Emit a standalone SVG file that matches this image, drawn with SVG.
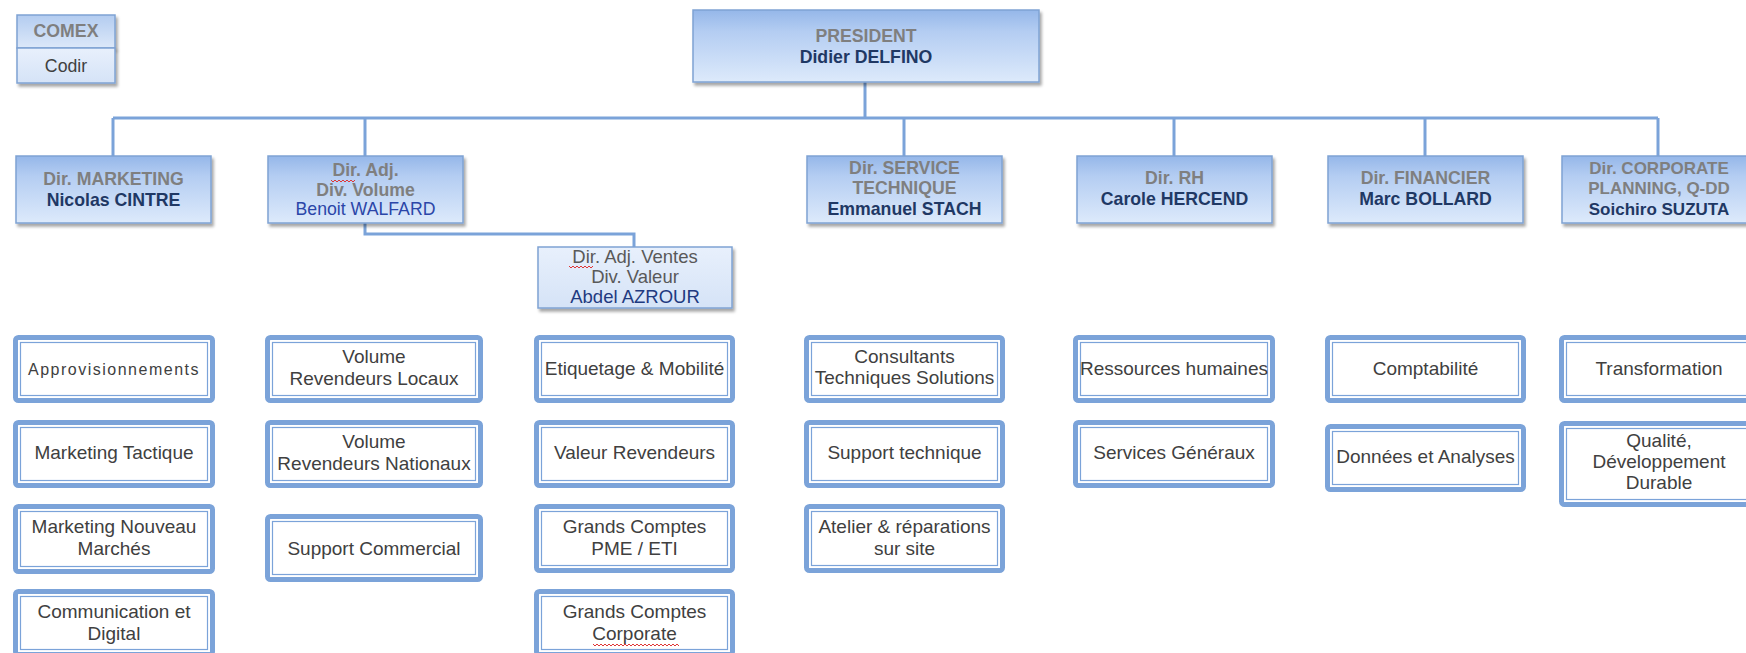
<svg xmlns="http://www.w3.org/2000/svg" width="1746" height="653" viewBox="0 0 1746 653">
<defs>
<linearGradient id="g1" x1="0" y1="0" x2="0" y2="1">
<stop offset="0" stop-color="#95B7E9"/>
<stop offset="0.3" stop-color="#B4CDF2"/>
<stop offset="1" stop-color="#DDEAFB"/>
</linearGradient>
<linearGradient id="g2" x1="0" y1="0" x2="0" y2="1">
<stop offset="0" stop-color="#E8F0FC"/>
<stop offset="1" stop-color="#D5E3F7"/>
</linearGradient>
<linearGradient id="g3" x1="0" y1="0" x2="0" y2="1">
<stop offset="0" stop-color="#B3CCF0"/>
<stop offset="1" stop-color="#DCE8F9"/>
</linearGradient>
<filter id="sh" x="-5%" y="-10%" width="115%" height="130%">
<feDropShadow dx="2" dy="3" stdDeviation="1.5" flood-color="#000" flood-opacity="0.35"/>
</filter>
<style>
.l1{fill:url(#g1);stroke:#7FA3D3;stroke-width:1.5;filter:url(#sh)}
.l1b{fill:url(#g2);stroke:#7FA3D3;stroke-width:1.5;filter:url(#sh)}
.t1{font-family:"Liberation Sans",Arial,sans-serif;font-size:17.7px;font-weight:bold;fill:#7F7F7F;text-anchor:middle}
.n1{fill:#1F3864}
.nb{fill:#2B46A8;font-weight:normal}
.tr{font-family:"Liberation Sans",Arial,sans-serif;font-size:18.5px;fill:#595959;text-anchor:middle}
.o2{fill:#fff;stroke:#7BA3D9;stroke-width:5}
.i2{fill:none;stroke:#7BA3D9;stroke-width:1.2}
.t2{font-family:"Liberation Sans",Arial,sans-serif;font-size:19px;fill:#404040;text-anchor:middle}
.conn{stroke:#7BA3D9;stroke-width:3;fill:none}
.wavy{stroke:#E03535;stroke-width:1;fill:none}
</style>
</defs>
<rect width="1746" height="653" fill="#FFFFFF"/>

<g id="connectors">
<path class="conn" d="M865 82 V118"/>
<path class="conn" d="M113 118 H1658"/>
<path class="conn" d="M113 118 V156"/>
<path class="conn" d="M365 118 V156"/>
<path class="conn" d="M904 118 V156"/>
<path class="conn" d="M1174 118 V156"/>
<path class="conn" d="M1425 118 V156"/>
<path class="conn" d="M1658 118 V156"/>
<path class="conn" d="M365 223 V234 H634 V247"/>
</g>

<g id="comex">
<rect x="17" y="15" width="98" height="33" fill="url(#g3)" stroke="#7FA3D3" stroke-width="1.5" filter="url(#sh)"/>
<rect x="17" y="48" width="98" height="35" fill="url(#g2)" stroke="#7FA3D3" stroke-width="1.5" filter="url(#sh)"/>
<text class="t1" x="66" y="37">COMEX</text>
<text class="t1" x="66" y="72" style="font-weight:normal;fill:#404040">Codir</text>
</g>

<g id="president">
<rect class="l1" x="693" y="10" width="346" height="72"/>
<text class="t1" x="866" y="42">PRESIDENT</text>
<text class="t1 n1" x="866" y="63">Didier DELFINO</text>
</g>

<g id="dir-marketing">
<rect class="l1" x="16" y="156" width="195" height="67"/>
<text class="t1" x="113.5" y="185">Dir. MARKETING</text>
<text class="t1 n1" x="113.5" y="206">Nicolas CINTRE</text>
</g>

<g id="dir-volume">
<rect class="l1" x="268" y="156" width="195" height="67"/>
<text class="t1" x="365.5" y="176">Dir. Adj.</text>
<text class="t1" x="365.5" y="195.5">Div. Volume</text>
<text class="t1 nb" x="365.5" y="214.5">Benoit WALFARD</text>
<path class="wavy" d="M331 180 l2 2 l2 -2 l2 2 l2 -2 l2 2 l2 -2 l2 2 l2 -2 l2 2 l2 -2 l2 2 l2 -2"/>
</g>

<g id="dir-valeur">
<rect class="l1b" x="538" y="247" width="194" height="61"/>
<text class="tr" x="635" y="263">Dir. Adj. Ventes</text>
<text class="tr" x="635" y="283">Div. Valeur</text>
<text class="tr" x="635" y="303" style="fill:#1F3A80">Abdel AZROUR</text>
<path class="wavy" d="M569 266 l2 2 l2 -2 l2 2 l2 -2 l2 2 l2 -2 l2 2 l2 -2 l2 2 l2 -2 l2 2 l2 -2"/>
</g>

<g id="dir-service">
<rect class="l1" x="807" y="156" width="195" height="67"/>
<text class="t1" x="904.5" y="173.5">Dir. SERVICE</text>
<text class="t1" x="904.5" y="194">TECHNIQUE</text>
<text class="t1 n1" x="904.5" y="214.5">Emmanuel STACH</text>
</g>

<g id="dir-rh">
<rect class="l1" x="1077" y="156" width="195" height="67"/>
<text class="t1" x="1174.5" y="184">Dir. RH</text>
<text class="t1 n1" x="1174.5" y="205">Carole HERCEND</text>
</g>

<g id="dir-financier">
<rect class="l1" x="1328" y="156" width="195" height="67"/>
<text class="t1" x="1425.5" y="184">Dir. FINANCIER</text>
<text class="t1 n1" x="1425.5" y="205">Marc BOLLARD</text>
</g>

<g id="dir-corporate">
<rect class="l1" x="1562" y="156" width="195" height="67"/>
<text class="t1" x="1659" y="174" style="font-size:17px">Dir. CORPORATE</text>
<text class="t1" x="1659" y="194" style="font-size:17px">PLANNING, Q-DD</text>
<text class="t1 n1" x="1659" y="215" style="font-size:17px">Soichiro SUZUTA</text>
</g>

<!-- Column A -->
<g id="approvisionnements">
<rect class="o2" x="15.5" y="337.5" width="197" height="63" rx="3"/>
<rect class="i2" x="20.5" y="342.5" width="187" height="53"/>
<text class="t2" x="114" y="375" style="font-size:16px;letter-spacing:1.5px">Approvisionnements</text>
</g>
<g id="marketing-tactique">
<rect class="o2" x="15.5" y="422.5" width="197" height="63" rx="3"/>
<rect class="i2" x="20.5" y="427.5" width="187" height="53"/>
<text class="t2" x="114" y="459">Marketing Tactique</text>
</g>
<g id="marketing-nouveau">
<rect class="o2" x="15.5" y="506.5" width="197" height="65" rx="3"/>
<rect class="i2" x="20.5" y="511.5" width="187" height="55"/>
<text class="t2" x="114" y="533">Marketing Nouveau</text>
<text class="t2" x="114" y="555">Marchés</text>
</g>
<g id="communication">
<rect class="o2" x="15.5" y="591.5" width="197" height="63" rx="3"/>
<rect class="i2" x="20.5" y="596.5" width="187" height="53"/>
<text class="t2" x="114" y="618">Communication et</text>
<text class="t2" x="114" y="640">Digital</text>
</g>

<!-- Column B -->
<g id="volume-locaux">
<rect class="o2" x="267.5" y="337.5" width="213" height="63" rx="3"/>
<rect class="i2" x="272.5" y="342.5" width="203" height="53"/>
<text class="t2" x="374" y="363">Volume</text>
<text class="t2" x="374" y="385">Revendeurs Locaux</text>
</g>
<g id="volume-nationaux">
<rect class="o2" x="267.5" y="422.5" width="213" height="63" rx="3"/>
<rect class="i2" x="272.5" y="427.5" width="203" height="53"/>
<text class="t2" x="374" y="448">Volume</text>
<text class="t2" x="374" y="470">Revendeurs Nationaux</text>
</g>
<g id="support-commercial">
<rect class="o2" x="267.5" y="516.5" width="213" height="63" rx="3"/>
<rect class="i2" x="272.5" y="521.5" width="203" height="53"/>
<text class="t2" x="374" y="555">Support Commercial</text>
</g>

<!-- Column C -->
<g id="etiquetage">
<rect class="o2" x="536.5" y="337.5" width="196" height="63" rx="3"/>
<rect class="i2" x="541.5" y="342.5" width="186" height="53"/>
<text class="t2" x="634.5" y="375">Etiquetage &amp; Mobilité</text>
</g>
<g id="valeur-revendeurs">
<rect class="o2" x="536.5" y="422.5" width="196" height="63" rx="3"/>
<rect class="i2" x="541.5" y="427.5" width="186" height="53"/>
<text class="t2" x="634.5" y="459">Valeur Revendeurs</text>
</g>
<g id="gc-pme">
<rect class="o2" x="536.5" y="506.5" width="196" height="64" rx="3"/>
<rect class="i2" x="541.5" y="511.5" width="186" height="54"/>
<text class="t2" x="634.5" y="533">Grands Comptes</text>
<text class="t2" x="634.5" y="555">PME / ETI</text>
</g>
<g id="gc-corporate">
<rect class="o2" x="536.5" y="591.5" width="196" height="63" rx="3"/>
<rect class="i2" x="541.5" y="596.5" width="186" height="53"/>
<text class="t2" x="634.5" y="618">Grands Comptes</text>
<text class="t2" x="634.5" y="640">Corporate</text>
<path class="wavy" d="M593 644 l2 2 l2 -2 l2 2 l2 -2 l2 2 l2 -2 l2 2 l2 -2 l2 2 l2 -2 l2 2 l2 -2 l2 2 l2 -2 l2 2 l2 -2 l2 2 l2 -2 l2 2 l2 -2 l2 2 l2 -2 l2 2 l2 -2 l2 2 l2 -2 l2 2 l2 -2 l2 2 l2 -2 l2 2 l2 -2 l2 2 l2 -2 l2 2 l2 -2 l2 2 l2 -2 l2 2 l2 -2 l2 2 l2 -2 l2 2"/>
</g>

<!-- Column D -->
<g id="consultants">
<rect class="o2" x="806.5" y="337.5" width="196" height="63" rx="3"/>
<rect class="i2" x="811.5" y="342.5" width="186" height="53"/>
<text class="t2" x="904.5" y="363">Consultants</text>
<text class="t2" x="904.5" y="384">Techniques Solutions</text>
</g>
<g id="support-technique">
<rect class="o2" x="806.5" y="422.5" width="196" height="63" rx="3"/>
<rect class="i2" x="811.5" y="427.5" width="186" height="53"/>
<text class="t2" x="904.5" y="459">Support technique</text>
</g>
<g id="atelier">
<rect class="o2" x="806.5" y="506.5" width="196" height="64" rx="3"/>
<rect class="i2" x="811.5" y="511.5" width="186" height="54"/>
<text class="t2" x="904.5" y="533">Atelier &amp; réparations</text>
<text class="t2" x="904.5" y="555">sur site</text>
</g>

<!-- Column E -->
<g id="ressources-humaines">
<rect class="o2" x="1075.5" y="337.5" width="197" height="63" rx="3"/>
<rect class="i2" x="1080.5" y="342.5" width="187" height="53"/>
<text class="t2" x="1174" y="375">Ressources humaines</text>
</g>
<g id="services-generaux">
<rect class="o2" x="1075.5" y="422.5" width="197" height="63" rx="3"/>
<rect class="i2" x="1080.5" y="427.5" width="187" height="53"/>
<text class="t2" x="1174" y="459">Services Généraux</text>
</g>

<!-- Column F -->
<g id="comptabilite">
<rect class="o2" x="1327.5" y="337.5" width="196" height="63" rx="3"/>
<rect class="i2" x="1332.5" y="342.5" width="186" height="53"/>
<text class="t2" x="1425.5" y="375">Comptabilité</text>
</g>
<g id="donnees">
<rect class="o2" x="1327.5" y="426.5" width="196" height="63" rx="3"/>
<rect class="i2" x="1332.5" y="431.5" width="186" height="53"/>
<text class="t2" x="1425.5" y="463">Données et Analyses</text>
</g>

<!-- Column G -->
<g id="transformation">
<rect class="o2" x="1561.5" y="337.5" width="197" height="63" rx="3"/>
<rect class="i2" x="1566.5" y="342.5" width="187" height="53"/>
<text class="t2" x="1659" y="375">Transformation</text>
</g>
<g id="qualite">
<rect class="o2" x="1561.5" y="423.5" width="197" height="81" rx="3"/>
<rect class="i2" x="1566.5" y="428.5" width="187" height="71"/>
<text class="t2" x="1659" y="447">Qualité,</text>
<text class="t2" x="1659" y="468">Développement</text>
<text class="t2" x="1659" y="489">Durable</text>
</g>
</svg>
